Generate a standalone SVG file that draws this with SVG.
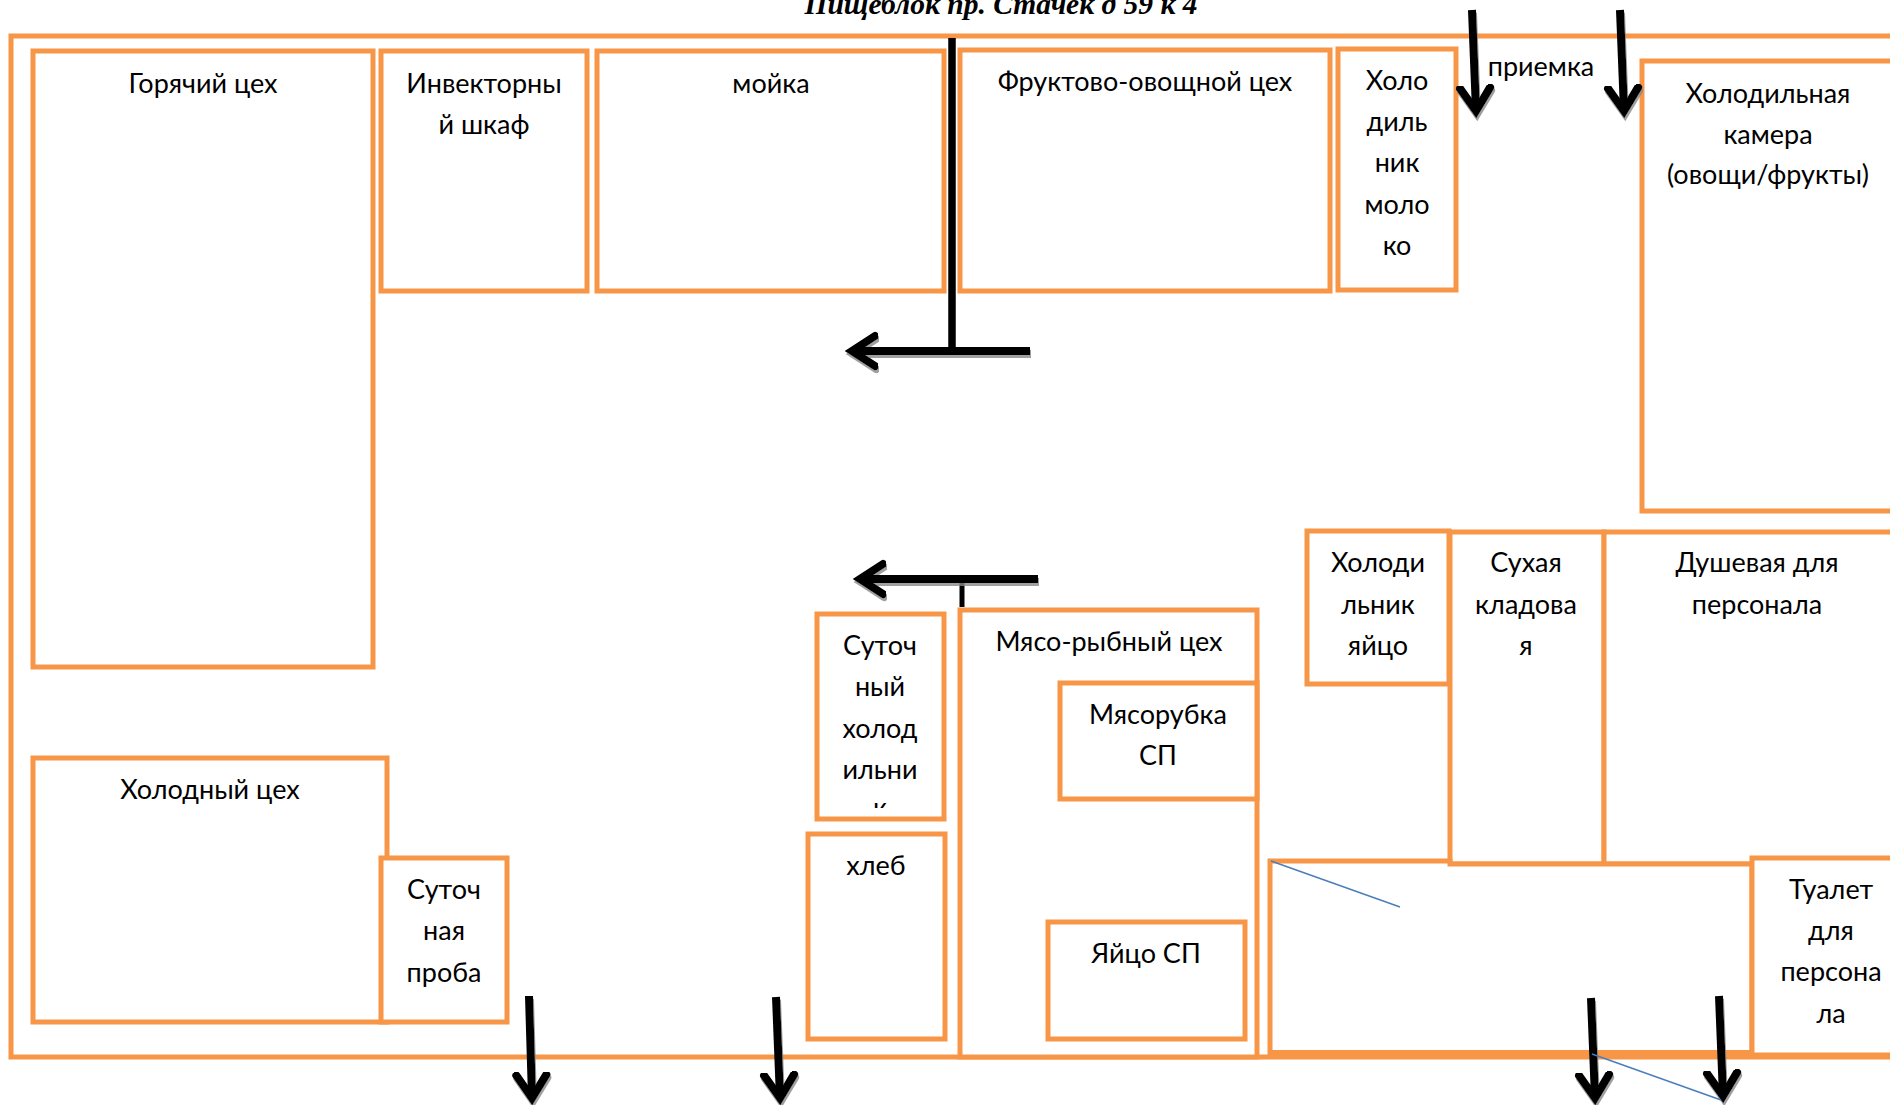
<svg xmlns="http://www.w3.org/2000/svg" width="1890" height="1105" viewBox="0 0 1890 1105">
<style>
.room{fill:#fff;stroke:#F79646;stroke-width:5}
.wall{fill:none;stroke:#F79646;stroke-width:5}
text{font-family:"Lato","Carlito","Open Sans",sans-serif;font-size:27px;fill:#000;text-anchor:middle}
text.title{font-family:"Liberation Serif",serif;font-size:29.500px;font-weight:bold;font-style:italic}
.arrow{fill:none;stroke:#000;stroke-width:8;marker-end:url(#head)}
.bar{fill:none;stroke:#000;stroke-width:7.5}
.blue{fill:none;stroke:#4A7EBB;stroke-width:1.5}
.shadowed{filter:url(#sh)}
</style>
<defs>
<marker id="head" markerUnits="userSpaceOnUse" markerWidth="50" markerHeight="50" refX="26" refY="20" orient="auto" viewBox="0 0 50 50"><path d="M3,5 L26,20 L3,35" fill="none" stroke="#000" stroke-width="8" stroke-linecap="round" stroke-linejoin="miter"/></marker>
<filter id="sh" filterUnits="userSpaceOnUse" x="0" y="0" width="1890" height="1105"><feDropShadow dx="1" dy="3" stdDeviation="0.6" flood-color="#888" flood-opacity="0.8"/></filter>
<clipPath id="cl"><rect x="819" y="615" width="123" height="193"/></clipPath>
</defs>
<rect width="1890" height="1105" fill="#fff"/>
<text class="title" x="1001" y="14">Пищеблок пр. Стачек д 59 к 4</text>
<g id="outer"><rect class="wall" x="11" y="36" width="1900" height="1021"/></g>
<g id="goryachiy"><rect class="room" x="33" y="51" width="340" height="616"/><text x="203" y="93">Горячий цех</text></g>
<g id="inventory"><rect class="room" x="381" y="51" width="206" height="240"/><text x="484" y="93">Инвекторны</text><text x="484" y="134">й шкаф</text></g>
<g id="moyka"><rect class="room" x="597" y="51" width="347" height="240"/><text x="771" y="93">мойка</text></g>
<g id="fruit"><rect class="room" x="960" y="50" width="370" height="241"/><text x="1145" y="91">Фруктово-овощной цех</text></g>
<g id="milk"><rect class="room" x="1338" y="49" width="118" height="241"/><text x="1397" y="90">Холо</text><text x="1397" y="131">диль</text><text x="1397" y="172">ник</text><text x="1397" y="214">моло</text><text x="1397" y="255">ко</text></g>
<g id="priemka"><text x="1541" y="76">приемка</text></g>
<g id="cold-chamber"><rect class="room" x="1642" y="61" width="300" height="450"/><text x="1768" y="103">Холодильная</text><text x="1768" y="144">камера</text><text x="1768" y="184">(овощи/фрукты)</text></g>
<g id="egg-fridge"><rect class="room" x="1307" y="531" width="142" height="153"/><text x="1378" y="572">Холоди</text><text x="1378" y="614">льник</text><text x="1378" y="655">яйцо</text></g>
<g id="pantry"><rect class="room" x="1450" y="532" width="154" height="332"/><text x="1526" y="572">Сухая</text><text x="1526" y="614">кладова</text><text x="1526" y="655">я</text></g>
<g id="shower"><rect class="room" x="1604" y="532" width="300" height="332"/><text x="1757" y="572">Душевая для</text><text x="1757" y="614">персонала</text></g>
<g id="meat"><rect class="room" x="960" y="610" width="297" height="447"/><text x="1109" y="651">Мясо-рыбный цех</text></g>
<g id="grinder"><rect class="room" x="1060" y="683" width="197" height="116"/><text x="1158" y="724">Мясорубка</text><text x="1158" y="765">СП</text></g>
<g id="egg"><rect class="room" x="1048" y="922" width="197" height="117"/><text x="1146" y="963">Яйцо СП</text></g>
<g id="daily-fridge"><rect class="room" x="817" y="614" width="127" height="205"/><text x="880" y="655">Суточ</text><text x="880" y="696">ный</text><text x="880" y="738">холод</text><text x="880" y="779">ильни</text><text x="880" y="817" clip-path="url(#cl)">к</text></g>
<g id="bread"><rect class="room" x="808" y="834" width="137" height="205"/><text x="876" y="875">хлеб</text></g>
<g id="cold"><rect class="room" x="33" y="758" width="354" height="264"/><text x="210" y="799">Холодный цех</text></g>
<g id="sample"><rect class="room" x="381" y="858" width="126" height="164"/><text x="444" y="899">Суточ</text><text x="444" y="940">ная</text><text x="444" y="982">проба</text></g>
<g id="corridor"><path class="room" d="M1270,1055 V861 H1450 V864 H1752 V1055 Z"/><path d="M1270,1054.500 H1900" fill="none" stroke="#F79646" stroke-width="9"/></g>
<g id="toilet"><rect class="room" x="1752" y="858" width="200" height="197"/><text x="1831" y="899">Туалет</text><text x="1831" y="940">для</text><text x="1831" y="981">персона</text><text x="1831" y="1023">ла</text></g>
<g id="connectors">
<g class="shadowed"><path class="arrow" d="M1472,10 L1476,111"/></g>
<g class="shadowed"><path class="arrow" d="M1620,10 L1624,111"/></g>
<path class="bar" d="M952,38 V355"/>
<g class="shadowed"><path class="arrow" d="M1030,351 H852"/></g>
<path d="M962,581 V607" fill="none" stroke="#000" stroke-width="5"/>
<g class="shadowed"><path class="arrow" d="M1038,579 H860"/></g>
<g class="shadowed"><path class="arrow" d="M529,996 L532,1098"/></g>
<g class="shadowed"><path class="arrow" d="M776,997 L780,1098"/></g>
<g class="shadowed"><path class="arrow" d="M1591,998 L1595,1098"/></g>
<g class="shadowed"><path class="arrow" d="M1719,996 L1723,1096"/></g>
<path class="blue" d="M1271,861 L1400,907"/>
<path class="blue" d="M1592,1054 L1721,1100"/>
</g>
</svg>
